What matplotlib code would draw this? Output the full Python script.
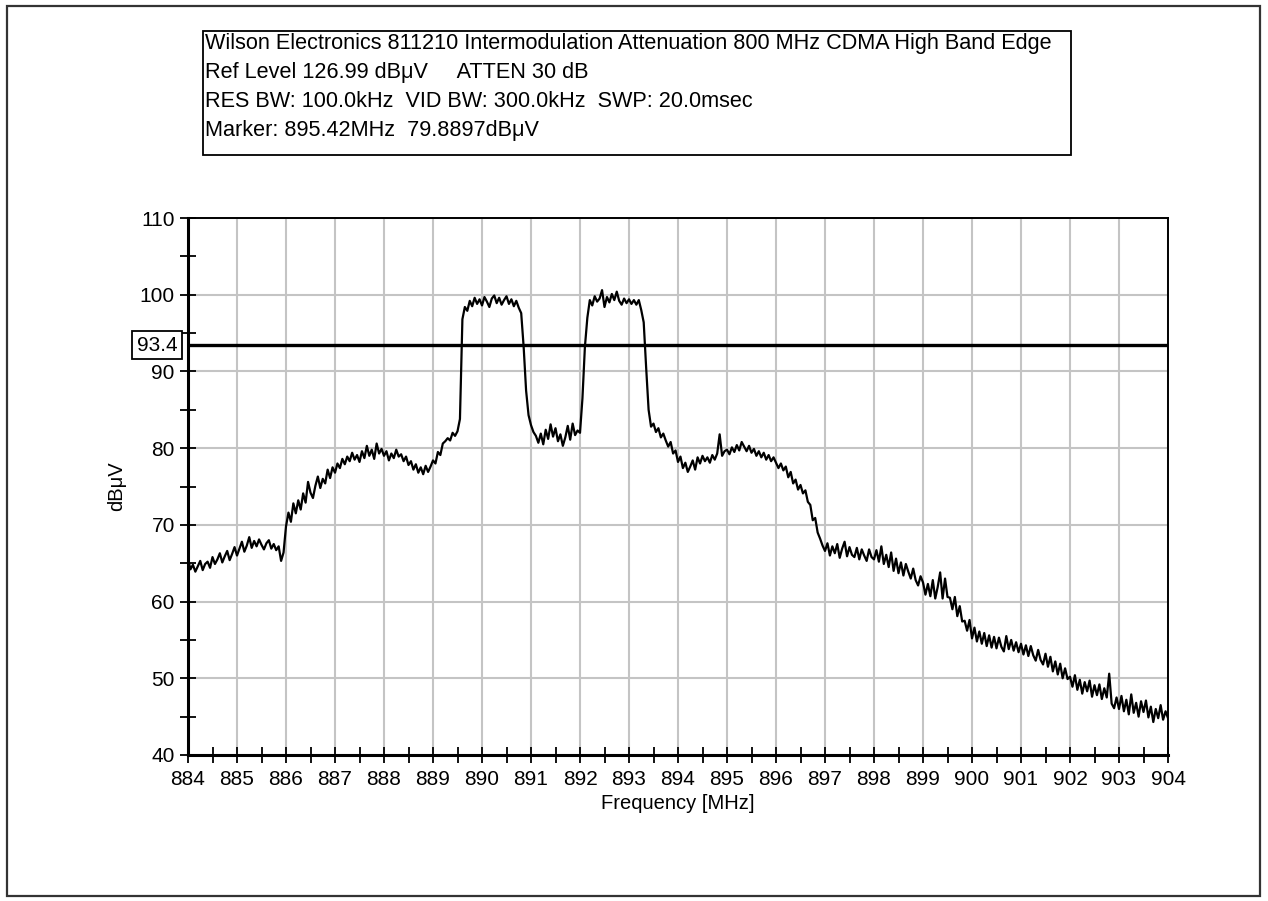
import numpy as np
import matplotlib
matplotlib.use("Agg")
import matplotlib.pyplot as plt
from matplotlib.patches import Rectangle

plt.rcParams['font.family'] = ['Liberation Sans', 'DejaVu Sans']

# sweep 884..904 MHz, 0.05 MHz per point
freq = np.linspace(884.0, 904.0, 401)
level = np.array([
    65.6, 64.2, 64.8, 63.9, 64.6, 65.3, 64.1, 64.9, 65.2, 64.4, 65.8, 64.9, 65.5, 66.3, 65.1, 65.9, 66.6, 65.4, 66.2, 67.1,
    66.0, 66.9, 67.8, 66.5, 67.3, 68.4, 67.0, 67.9, 67.2, 68.1, 67.4, 66.8, 67.6, 68.0, 66.9, 67.5, 66.7, 67.2, 65.3, 66.4,
    69.8, 71.6, 70.4, 72.8, 71.5, 73.2, 72.0, 74.1, 72.9, 75.6, 74.2, 73.5, 75.1, 76.3, 74.8, 76.0, 75.4, 77.2, 76.1, 77.5,
    76.8, 78.0, 77.4, 78.6, 77.9, 78.9, 78.3, 79.4, 78.5, 79.1, 78.2, 79.6, 78.7, 80.3, 79.0, 79.8, 78.6, 80.6, 79.3, 79.9,
    79.0, 79.6, 78.4, 79.3, 78.7, 79.8, 78.9, 79.2, 78.3, 78.9, 77.8, 78.3, 77.2, 77.9, 76.8, 77.5, 76.6, 77.7, 76.9, 77.6,
    78.4, 78.0, 79.5, 79.1, 80.6, 80.9, 81.3, 81.0, 82.0, 81.6, 82.2, 83.8, 96.8, 98.4, 97.9, 99.2, 98.5, 99.6, 98.8, 99.4,
    98.6, 99.7, 99.1, 98.4, 99.5, 99.9, 98.9, 99.6, 98.7, 99.3, 99.8, 98.8, 99.4, 98.5, 99.2, 98.3, 97.6, 93.2, 87.5, 84.3,
    83.0, 82.1, 81.6, 80.7, 81.9, 80.5, 82.4, 81.2, 83.1, 81.5, 82.6, 80.9, 81.8, 80.3, 81.4, 82.9, 81.1, 83.2, 81.7, 82.3,
    82.0, 86.5, 93.2, 97.0, 99.3, 98.6, 99.8, 99.1, 99.5, 100.6, 98.4, 99.7, 99.0, 100.1, 99.3, 100.4, 99.2, 98.7, 99.5, 98.9,
    99.4, 98.8, 99.3, 98.7, 99.3, 98.0, 96.4, 90.5, 85.0, 82.8, 83.2, 82.1, 82.6, 81.4, 81.9, 81.0, 80.2, 80.8, 79.3, 79.7,
    78.2, 78.9, 77.4, 78.1, 76.9, 77.6, 78.4, 77.2, 78.8, 78.0, 79.0, 78.3, 78.8, 78.1, 79.1, 78.5, 79.3, 81.8, 79.0, 79.6,
    79.8, 79.2, 80.1, 79.5, 80.4, 79.7, 80.8, 80.2, 79.6, 80.3, 79.4, 79.9, 79.0, 79.6, 78.8, 79.4, 78.5, 79.1, 78.3, 78.8,
    78.1, 77.4, 78.0, 77.1, 77.6, 76.2, 76.9, 75.4, 75.9, 74.6, 75.2, 74.1, 74.5, 73.0, 72.6, 70.6, 70.9, 69.0, 68.2, 67.3,
    66.6, 67.6, 66.0, 67.2, 66.3, 67.5, 65.7, 66.9, 67.8, 65.9, 67.1, 66.1, 65.8, 67.0, 65.5, 66.8, 66.0, 65.3, 66.8, 65.8,
    65.5, 66.7, 65.2, 67.2, 64.9, 66.1, 64.5, 66.4, 64.0, 65.6, 63.7, 65.1, 63.4, 64.9, 63.9, 63.0, 64.3, 62.8, 62.1, 63.3,
    62.5, 60.9, 62.3, 60.7, 62.8, 60.4, 61.9, 63.8, 60.4, 63.0, 60.6, 60.5, 59.0, 60.6, 58.1, 59.4, 57.4, 57.5, 56.2, 57.6,
    55.2, 56.6, 54.8, 56.1, 54.5, 55.9, 54.2, 55.6, 54.0, 55.4, 53.9, 55.3, 54.1, 53.5, 55.5, 53.8, 55.0, 53.6, 54.7, 53.4,
    54.5, 53.1, 54.3, 52.9, 54.2, 53.0, 52.3, 53.7, 52.4, 51.8, 53.2, 51.5, 52.8, 50.9, 52.2, 50.5, 51.9, 50.0, 51.3, 49.9,
    50.2, 48.9, 50.4, 48.5, 49.8, 48.0, 49.5, 48.3, 49.7, 47.6, 49.1, 47.8, 49.2, 47.3, 48.7, 47.5, 50.6, 46.7, 46.1, 47.5,
    46.0, 47.7, 45.7, 47.2, 45.3, 47.9, 45.5, 46.8, 45.0, 47.0, 45.6, 47.1, 44.9, 46.3, 44.3, 46.0, 44.8, 46.5, 44.6, 45.7,
    44.8,
])

ref_line = 93.4
header = [
    "Wilson Electronics 811210 Intermodulation Attenuation 800 MHz CDMA High Band Edge",
    "Ref Level 126.99 dB\u03bcV     ATTEN 30 dB",
    "RES BW: 100.0kHz  VID BW: 300.0kHz  SWP: 20.0msec",
    "Marker: 895.42MHz  79.8897dB\u03bcV",
]

W, H = 1268, 901
fig = plt.figure(figsize=(W / 100, H / 100), dpi=100)

def fx(px):
    return px / W

def fy(py):
    return 1 - py / H

# outer frame
fig.patches.append(Rectangle((fx(7), fy(896)), fx(1260 - 7), (896 - 6) / H,
                             transform=fig.transFigure, fill=False,
                             edgecolor='#333333', lw=1.6))
# header box
fig.patches.append(Rectangle((fx(203), fy(155)), fx(1071 - 203), (155 - 31) / H,
                             transform=fig.transFigure, fill=False,
                             edgecolor='black', lw=1.3))
for i, line in enumerate(header):
    fig.text(fx(205), fy(44 + i * 28.7), line, fontsize=15.6, va='center', ha='left')

ax = fig.add_axes([fx(188), fy(755), fx(1168 - 188), (755 - 218) / H])
ax.plot(freq, level, color='black', lw=1.6)
ax.axhline(ref_line, color='black', lw=2.4)

ax.set_xlim(884, 904)
ax.set_ylim(40, 110)
ax.set_xticks(np.arange(884, 905, 1))
ax.set_xticks(np.arange(884, 904.1, 0.5), minor=True)
ax.set_yticks(np.arange(40, 111, 10))
ax.set_yticks(np.arange(40, 111, 5), minor=True)
ax.grid(True, which='major', color='#c4c4c4', lw=1.5)
ax.tick_params(which='both', direction='inout', length=11, width=1.3,
               labelsize=15, colors='black')
ax.tick_params(axis='x', pad=5)
ax.tick_params(axis='y', pad=4)
for s in ['left', 'bottom']:
    ax.spines[s].set_linewidth(2.2)
for s in ['top', 'right']:
    ax.spines[s].set_linewidth(1.4)

ax.set_xlabel('Frequency [MHz]', fontsize=14.5, labelpad=4)
ax.set_ylabel('dB\u03bcV', fontsize=14.5, labelpad=10)

# reference level tag on the left axis
ax.text(-0.011, ref_line, f'{ref_line}', transform=ax.get_yaxis_transform(),
        ha='right', va='center', fontsize=15,
        bbox=dict(boxstyle='square,pad=0.22', fc='white', ec='black', lw=1.3))

fig.savefig('out.png', dpi=100)
